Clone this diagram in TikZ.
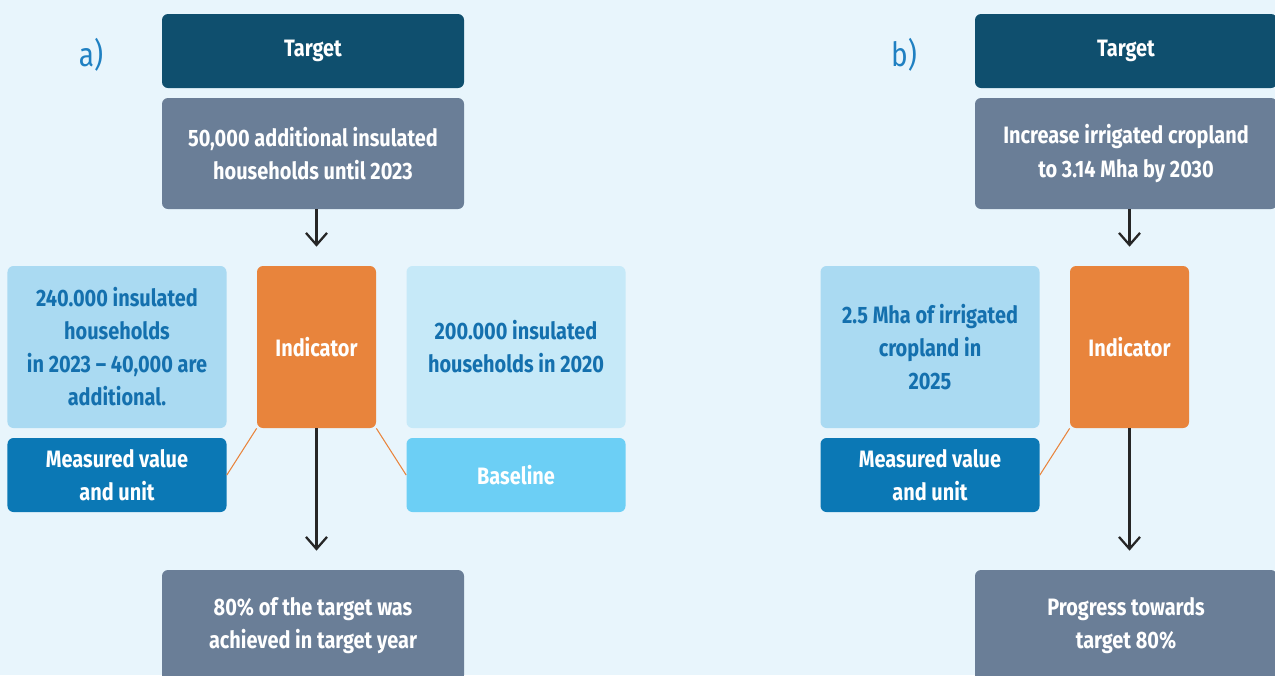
\documentclass[tikz,border=0pt]{standalone}
\usepackage{fontspec}
\setmainfont{Fira Sans}[FakeStretch=0.84]
\usetikzlibrary{arrows.meta}

\definecolor{bgblue}{HTML}{E8F5FC}
\definecolor{targetblue}{HTML}{0F4F6E}
\definecolor{slate}{HTML}{6A7E97}
\definecolor{valueblue}{HTML}{AADAF2}
\definecolor{paleblue}{HTML}{C6E9F8}
\definecolor{unitblue}{HTML}{0B78B5}
\definecolor{skyblue}{HTML}{6CCFF5}
\definecolor{indorange}{HTML}{E8843C}
\definecolor{textblue}{HTML}{1470AE}
\definecolor{labelblue}{HTML}{1F80C2}

\begin{document}
\begin{tikzpicture}[
  block/.style = {rounded corners=0.12cm, inner sep=0pt, align=center, text=white,
                  font=\fontsize{13.5}{18.8}\selectfont\bfseries},
  wide/.style  = {block, minimum width=6.04cm},
  info/.style  = {block, minimum width=4.38cm, minimum height=3.24cm, text=textblue},
  tag/.style   = {block, minimum width=4.38cm, minimum height=1.48cm},
  arrow/.style = {line width=1.3pt, draw=black!85, -{Straight Barb[length=2.4mm, width=4.2mm]}},
  link/.style  = {indorange, line width=0.6pt},
  panel/.style = {labelblue, font=\fontsize{19}{22}\selectfont}
]
  \useasboundingbox[fill=bgblue] (0,0) rectangle (25.5,-13.5);

  % a) insulated households
  \node[panel] (labelA) at (1.82,-1.1) {a)};
  \node[wide, fill=targetblue, minimum height=1.48cm] (targetA) at (6.26,-1.02) {Target};
  \node[wide, fill=slate, minimum height=2.22cm] (goalA) at (6.26,-3.07)
    {50,000 additional insulated\\households until 2023};
  \node[block, fill=indorange, minimum width=2.38cm, minimum height=3.24cm] (indA) at (6.33,-6.94) {Indicator};
  \node[info, fill=valueblue] (valueA) at (2.34,-6.94)
    {240.000 insulated\\households\\in 2023 – 40,000 are\\additional.};
  \node[info, fill=paleblue] (baseA) at (10.32,-6.94)
    {200.000 insulated\\households in 2020};
  \node[tag, fill=unitblue] (unitA) at (2.34,-9.5) {Measured value\\and unit};
  \node[tag, fill=skyblue] (baselineA) at (10.32,-9.5) {Baseline};
  \node[wide, fill=slate, minimum height=2.22cm] (resultA) at (6.26,-12.51)
    {80\% of the target was\\achieved in target year};

  \draw[arrow, shorten >=0.38cm] (goalA.south -| indA) -- (indA.north);
  \draw[arrow, shorten >=0.38cm] (indA.south) -- (resultA.north -| indA);
  \draw[link] (indA.south west) -- (unitA.east);
  \draw[link] (indA.south east) -- (baselineA.west);

  % b) irrigated cropland
  \node[panel] (labelB) at (18.08,-1.1) {b)};
  \node[wide, fill=targetblue, minimum height=1.48cm] (targetB) at (22.52,-1.02) {Target};
  \node[wide, fill=slate, minimum height=2.22cm] (goalB) at (22.52,-3.07)
    {Increase irrigated cropland\\to 3.14 Mha by 2030};
  \node[block, fill=indorange, minimum width=2.38cm, minimum height=3.24cm] (indB) at (22.59,-6.94) {Indicator};
  \node[info, fill=valueblue] (valueB) at (18.6,-6.94)
    {2.5 Mha of irrigated\\cropland in\\2025};
  \node[tag, fill=unitblue] (unitB) at (18.6,-9.5) {Measured value\\and unit};
  \node[wide, fill=slate, minimum height=2.22cm] (resultB) at (22.52,-12.51)
    {Progress towards\\target 80\%};

  \draw[arrow, shorten >=0.38cm] (goalB.south -| indB) -- (indB.north);
  \draw[arrow, shorten >=0.38cm] (indB.south) -- (resultB.north -| indB);
  \draw[link] (indB.south west) -- (unitB.east);
\end{tikzpicture}
\end{document}
